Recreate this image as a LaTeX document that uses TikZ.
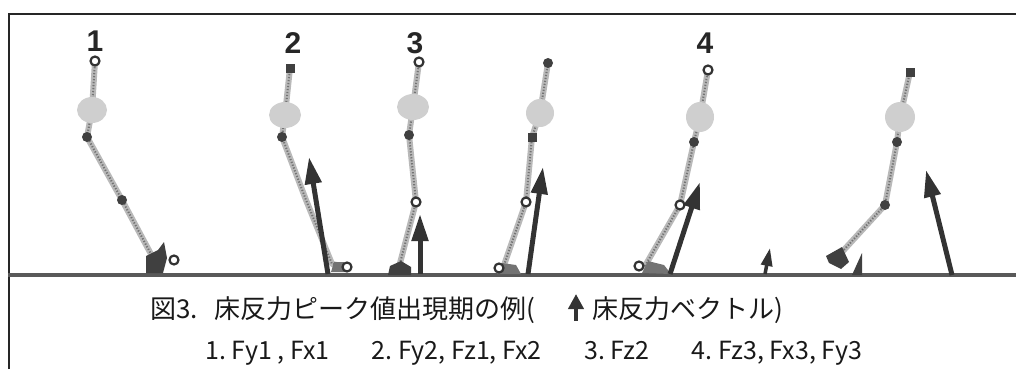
\documentclass[tikz,border=0pt]{standalone}
\usepackage{fontspec}
\setmainfont{Liberation Sans}
\newfontfamily\jpfont{Noto Sans CJK JP}
\usetikzlibrary{arrows.meta,calc}

\begin{document}
\begin{tikzpicture}[x=1pt,y=-1pt,
  frame/.style={line width=2.2pt, black!85},
  groundline/.style={line width=4pt, black!65},
  limb/.style={line width=6pt, gray!55, line cap=round, line join=round},
  limbtex/.style={line width=2pt, black!55, dash pattern=on 1.3pt off 1.7pt},
  blob/.style={fill=gray!38},
  ring/.style={circle, draw=black!80, line width=2.2pt, fill=white, inner sep=0pt, minimum size=9pt},
  dot/.style={circle, fill=black!75, inner sep=0pt, minimum size=10pt},
  sq/.style={rectangle, fill=black!75, inner sep=0pt, minimum size=9pt},
  footpart/.style={fill=black!75},
  footlight/.style={fill=black!55},
  force/.style={line width=5pt, black!80, -{Triangle[length=27pt,width=16pt]}},
  smallforce/.style={line width=3.5pt, black!80, -{Triangle[length=18pt,width=11pt]}},
  numlabel/.style={font=\bfseries\fontsize{30}{30}\selectfont, text=black!85, anchor=base},
  caption/.style={font=\jpfont\fontsize{26}{26}\selectfont, text=black!90, inner sep=0pt, anchor=base west},
  caption2/.style={font=\jpfont\fontsize{25}{25}\selectfont, text=black!90, inner sep=0pt, anchor=base west},
]
\useasboundingbox (0,0) rectangle (1016,369);

% frame and floor
\draw[frame] (9,369) -- (9,14) -- (1016,14);
\draw[groundline] (8,275) -- (1016,275);

% ---------- figure 1 ----------
\coordinate (t1) at (95,61);
\coordinate (h1) at (92,110);
\coordinate (k1) at (87,137);
\coordinate (a1) at (122,200);
\coordinate (f1) at (152,256);
\draw[limb] (t1) -- (h1) -- (k1) -- (a1) -- (f1);
\draw[limbtex] (t1) -- (h1) -- (k1) -- (a1) -- (f1);
\fill[blob] (h1) ellipse (15 and 13);
\fill[footpart] (146,256) -- (158,250) -- (164,242) -- (167,258) -- (163,273) -- (146,273) -- cycle;
\node[ring] (t1n) at (t1) {};
\node[dot] (k1n) at (k1) {};
\node[dot] (a1n) at (a1) {};
\node[ring] (f1n) at (174,260) {};
\node[numlabel] (l1) at (95,52) {1};

% ---------- figure 2 ----------
\coordinate (t2) at (290,68);
\coordinate (h2) at (285,115);
\coordinate (k2) at (282,137);
\coordinate (a2) at (306,200);
\coordinate (f2) at (332,264);
\draw[limb] (t2) -- (h2) -- (k2) -- (a2) -- (f2) -- (347,267);
\draw[limbtex] (t2) -- (h2) -- (k2) -- (a2) -- (f2) -- (347,267);
\fill[blob] (h2) ellipse (16 and 13);
\fill[footlight] (331,272) -- (334,262) -- (344,262) -- (346,272) -- cycle;
\node[sq] (t2n) at (t2) {};
\node[dot] (k2n) at (k2) {};
\node[ring] (f2n) at (347,267) {};
\coordinate (b2) at (328,274);
\coordinate (p2) at (309,157);
\draw[force] (b2) -- (p2);
\node[numlabel] (l2) at (293,53) {2};

% ---------- figure 3 ----------
\coordinate (t3) at (419,62);
\coordinate (h3) at (413,107);
\coordinate (k3) at (409,135);
\coordinate (a3) at (416,202);
\coordinate (f3) at (399,267);
\draw[limb] (t3) -- (h3) -- (k3) -- (a3) -- (f3);
\draw[limbtex] (t3) -- (h3) -- (k3) -- (a3) -- (f3);
\fill[blob] (h3) ellipse (16 and 13);
\fill[footpart] (388,275) -- (390,266) -- (401,261) -- (411,267) -- (411,275) -- cycle;
\node[ring] (t3n) at (t3) {};
\node[dot] (k3n) at (k3) {};
\node[ring] (a3n) at (a3) {};
\coordinate (b3) at (420,274);
\coordinate (p3) at (420,214);
\draw[force] (b3) -- (p3);
\node[numlabel] (l3) at (415,53) {3};

% ---------- figure 4 (no label) ----------
\coordinate (t4) at (548,63);
\coordinate (h4) at (540,113);
\coordinate (k4) at (532,137);
\coordinate (a4) at (526,202);
\coordinate (f4) at (503,268);
\draw[limb] (t4) -- (h4) -- (k4) -- (a4) -- (f4);
\draw[limbtex] (t4) -- (h4) -- (k4) -- (a4) -- (f4);
\fill[blob] (h4) ellipse (14 and 14);
\fill[footlight] (497,274) -- (502,263) -- (516,265) -- (521,274) -- cycle;
\node[dot] (t4n) at (t4) {};
\node[sq] (k4n) at (k4) {};
\node[ring] (a4n) at (a4) {};
\node[ring] (f4n) at (499,268) {};
\coordinate (b4) at (528,274);
\coordinate (p4) at (543,167);
\draw[force] (b4) -- (p4);

% ---------- figure 5 ----------
\coordinate (t5) at (708,70);
\coordinate (h5) at (700,117);
\coordinate (k5) at (694,142);
\coordinate (a5) at (680,205);
\coordinate (f5) at (645,266);
\draw[limb] (t5) -- (h5) -- (k5) -- (a5) -- (f5);
\draw[limbtex] (t5) -- (h5) -- (k5) -- (a5) -- (f5);
\fill[blob] (h5) ellipse (14 and 15);
\fill[footlight] (642,273) -- (648,261) -- (664,265) -- (671,274) -- cycle;
\node[ring] (t5n) at (t5) {};
\node[dot] (k5n) at (k5) {};
\node[ring] (a5n) at (a5) {};
\node[ring] (f5n) at (639,266) {};
\coordinate (b5) at (670,274);
\coordinate (p5) at (700,182);
\draw[force] (b5) -- (p5);
\coordinate (b5s) at (765,274);
\coordinate (p5s) at (770,248);
\draw[smallforce] (b5s) -- (p5s);
\node[numlabel] (l4) at (705,54) {4};

% ---------- figure 6 ----------
\coordinate (t6) at (910,72);
\coordinate (h6) at (900,117);
\coordinate (k6) at (897,142);
\coordinate (a6) at (885,205);
\coordinate (f6) at (842,252);
\draw[limb] (t6) -- (h6) -- (k6) -- (a6) -- (f6);
\draw[limbtex] (t6) -- (h6) -- (k6) -- (a6) -- (f6);
\fill[blob] (h6) ellipse (15 and 15);
\fill[footpart] (826,256) -- (842,247) -- (849,262) -- (841,269) -- (829,263) -- cycle;
\fill[footpart] (852,275) -- (862,275) -- (862,253) -- cycle;
\node[sq] (t6n) at (t6) {};
\node[dot] (k6n) at (k6) {};
\node[dot] (a6n) at (a6) {};
\coordinate (b6) at (952,275);
\coordinate (p6) at (926,170);
\draw[force] (b6) -- (p6);

% ---------- caption ----------
\node[caption] (c1) at (150,318) {図3.};
\node[caption] (c1b) at (214,318) {床反力ピーク値出現期の例(};
\coordinate (ib) at (576,321);
\coordinate (it) at (576,294);
\draw[line width=4pt, black!80, -{Triangle[length=15pt,width=15pt]}] (ib) -- (it);
\node[caption] (c2) at (592,318) {床反力ベクトル)};
\node[caption2] (c3) at (205,359)
  {1.\ Fy1\ ,\ Fx1\hspace{1.7em}2.\ Fy2,\ Fz1,\ Fx2\hspace{1.7em}3.\ Fz2\hspace{1.7em}4.\ Fz3,\ Fx3,\ Fy3};
\end{tikzpicture}
\end{document}
